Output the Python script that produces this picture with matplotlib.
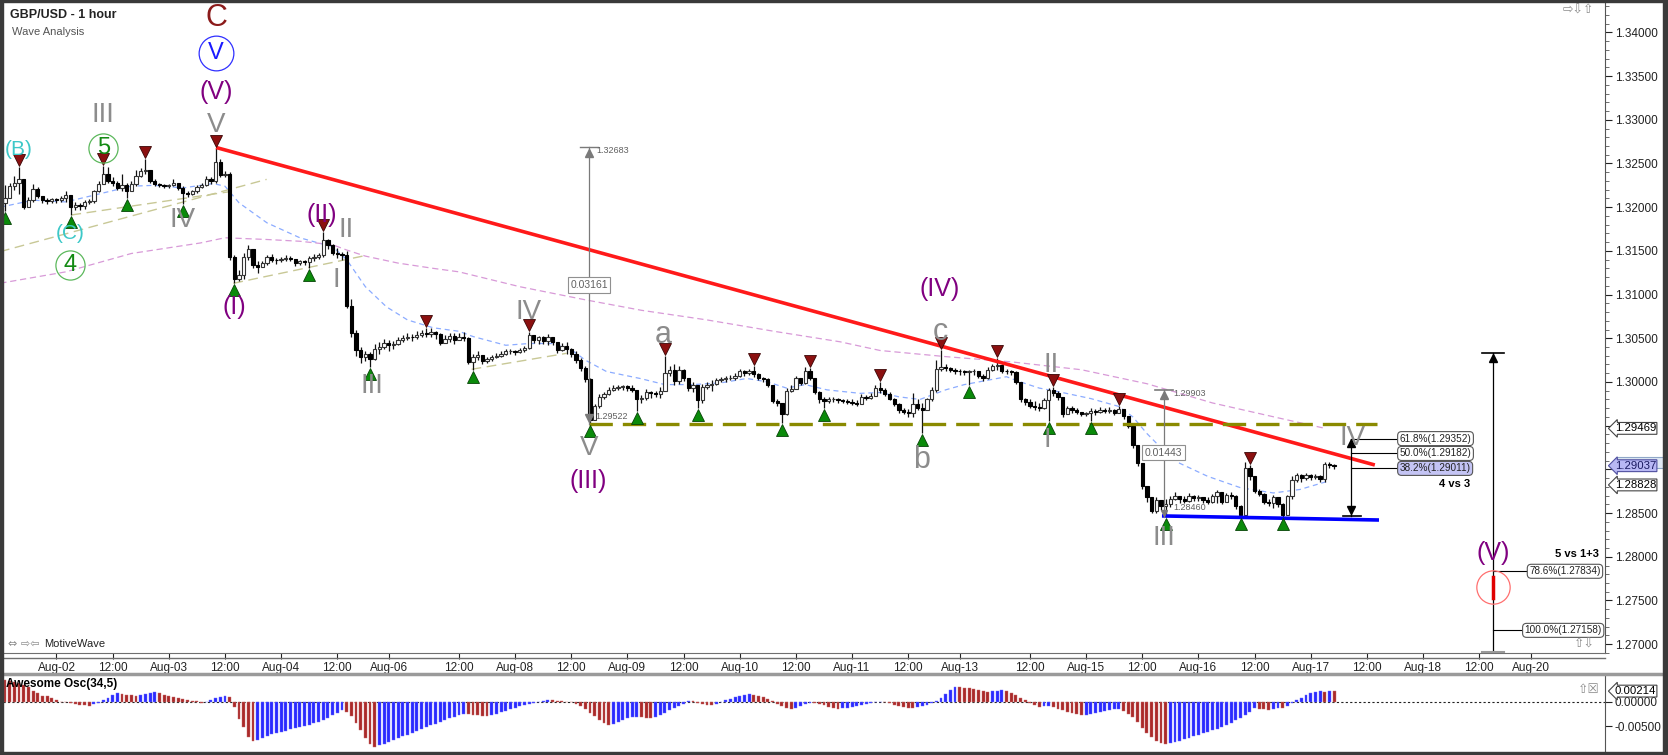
import numpy as np
import matplotlib
matplotlib.use('Agg')
import matplotlib.pyplot as plt
from matplotlib import transforms
from matplotlib.lines import Line2D
from matplotlib.patches import Rectangle, FancyBboxPatch

plt.rcParams['font.family'] = ['Liberation Sans', 'DejaVu Sans']

W, H = 1668, 755
BASE = 1.28   # prices below are in pips above 1.2800

# hourly GBP/USD candles, bar 0 = first hour on screen
first_open = 405
closes = [410, 424, 428, 432, 400, 408, 421, 413, 408, 407,
          409, 408, 410, 414, 400, 403, 401, 406, 407, 418,
          427, 438, 430, 428, 422, 425, 418, 426, 436, 441,
          442, 430, 427, 425, 424, 425, 428, 422, 416, 415,
          418, 423, 425, 432, 430, 452, 437, 438, 343, 318,
          322, 343, 352, 334, 332, 336, 343, 340, 339, 341,
          342, 341, 336, 338, 337, 342, 343, 345, 362, 357,
          348, 346, 345, 287, 256, 237, 228, 232, 226, 238,
          240, 245, 242, 244, 248, 250, 252, 251, 254, 256,
          255, 257, 255, 245, 249, 253, 248, 252, 250, 223,
          229, 231, 224, 226, 228, 230, 232, 235, 236, 234,
          237, 239, 254, 248, 251, 247, 252, 246, 237, 241,
          238, 232, 225, 216, 203, 157, 172, 183, 186, 191,
          193, 194, 195, 193, 191, 181, 182, 189, 187, 186,
          190, 210, 214, 201, 214, 204, 193, 197, 179, 194,
          196, 198, 202, 203, 204, 205, 207, 212, 210, 212,
          209, 205, 203, 197, 178, 176, 163, 190, 192, 204,
          199, 212, 205, 188, 180, 178, 180, 181, 179, 178,
          177, 176, 175, 183, 182, 184, 193, 191, 186, 181,
          175, 168, 166, 165, 175, 170, 168, 180, 191, 215,
          217, 216, 214, 213, 212, 211, 212, 213, 207, 204,
          214, 218, 219, 213, 212, 211, 200, 180, 177, 173,
          171, 170, 179, 191, 187, 183, 163, 170, 168, 166,
          163, 164, 167, 166, 168, 167, 168, 165, 169, 161,
          150, 128, 107, 81, 68, 52, 65, 58, 60, 66,
          70, 66, 64, 70, 67, 68, 65, 63, 69, 74,
          63, 71, 70, 58, 48, 101, 92, 75, 72, 63,
          62, 68, 60, 48, 69, 88, 93, 90, 93, 91,
          92, 89, 106, 105, 104]
highs = [425, 428, 436, 446, 432, 412, 426, 423, 413, 410,
         411, 411, 413, 418, 414, 406, 405, 408, 409, 420,
         430, 447, 446, 434, 430, 438, 428, 430, 442, 445,
         455, 443, 432, 428, 427, 427, 432, 428, 424, 418,
         420, 425, 428, 436, 434, 468, 455, 441, 440, 345,
         328, 348, 357, 346, 338, 338, 345, 346, 342, 343,
         345, 344, 339, 340, 339, 344, 346, 348, 372, 364,
         358, 353, 349, 350, 295, 260, 240, 236, 234, 244,
         246, 249, 248, 247, 251, 254, 256, 255, 258, 259,
         262, 262, 258, 256, 254, 256, 256, 256, 257, 252,
         232, 235, 230, 229, 231, 233, 235, 238, 238, 237,
         239, 241, 257, 254, 253, 253, 255, 251, 246, 245,
         246, 239, 235, 227, 218, 205, 175, 186, 189, 194,
         196, 197, 197, 196, 196, 190, 185, 192, 190, 190,
         194, 230, 218, 221, 218, 215, 204, 200, 197, 198,
         200, 202, 205, 206, 207, 208, 210, 215, 214, 215,
         218, 210, 206, 204, 192, 181, 176, 193, 196, 207,
         205, 217, 216, 205, 190, 183, 183, 183, 182, 181,
         180, 180, 179, 186, 185, 187, 196, 200, 193, 188,
         182, 176, 170, 169, 187, 180, 176, 182, 194, 225,
         237, 220, 217, 216, 215, 214, 214, 215, 211, 209,
         217, 221, 227, 220, 215, 214, 212, 200, 182, 180,
         178, 176, 182, 193, 194, 190, 182, 173, 172, 170,
         166, 166, 170, 169, 171, 170, 171, 169, 173, 167,
         160, 150, 128, 104, 80, 66, 68, 65, 66, 69,
         74, 70, 70, 73, 71, 71, 68, 68, 72, 76,
         74, 73, 74, 71, 59, 108, 105, 90, 78, 73,
         66, 71, 68, 62, 71, 92, 96, 95, 96, 95,
         95, 94, 109, 108, 106]
lows = [396, 410, 420, 415, 398, 400, 406, 410, 405, 404,
        405, 405, 406, 406, 391, 397, 397, 398, 404, 405,
        417, 426, 428, 424, 420, 418, 411, 418, 424, 435,
        438, 428, 424, 423, 422, 422, 424, 420, 404, 412,
        414, 416, 422, 424, 427, 428, 435, 434, 340, 313,
        316, 318, 340, 330, 325, 331, 334, 337, 335, 337,
        338, 338, 333, 334, 334, 330, 338, 341, 343, 352,
        345, 342, 340, 285, 252, 230, 222, 224, 217, 225,
        232, 238, 236, 238, 242, 246, 248, 247, 249, 251,
        251, 252, 249, 242, 245, 246, 243, 249, 247, 220,
        214, 225, 220, 222, 224, 227, 229, 231, 232, 231,
        233, 234, 238, 245, 244, 244, 242, 242, 233, 236,
        232, 229, 222, 212, 200, 152, 158, 170, 180, 185,
        190, 191, 191, 190, 189, 167, 176, 179, 182, 183,
        182, 190, 207, 196, 198, 201, 190, 188, 170, 176,
        192, 190, 196, 200, 200, 202, 202, 206, 207, 208,
        206, 202, 200, 194, 176, 172, 153, 162, 188, 193,
        196, 198, 202, 186, 176, 170, 176, 177, 176, 176,
        175, 174, 173, 175, 179, 181, 184, 187, 184, 179,
        172, 165, 163, 160, 160, 168, 142, 168, 178, 188,
        212, 212, 211, 209, 208, 208, 197, 208, 204, 201,
        203, 213, 214, 210, 209, 208, 198, 177, 174, 170,
        168, 167, 169, 155, 184, 179, 160, 164, 165, 163,
        161, 161, 155, 162, 164, 164, 164, 162, 164, 158,
        147, 125, 104, 78, 63, 50, 50, 54, 46, 57,
        65, 62, 61, 63, 64, 64, 62, 60, 61, 61,
        60, 66, 66, 55, 46, 47, 88, 73, 69, 60,
        58, 56, 57, 46, 50, 66, 86, 86, 88, 88,
        89, 86, 86, 101, 100]

# Awesome Oscillator (34,5), in pips
ao_pips = [43, 42, 40, 37, 34, 29, 21, 17, 12, 11, 7, 3, 0,
           -1, -3, -5, -6, -7, -8,
           -5, -2, 3, 8, 13, 17,
           16, 14, 13, 12,
           14, 16, 18, 19,
           17, 14, 11, 9, 7, 5, 3, 2, 1, -2,
           -1, 3, 7, 10, 12,
           9,
           -11, -35, -51, -71, -79,
           -77, -73, -69, -66, -64, -62, -59, -56, -54, -52, -50, -47, -44, -41, -37, -33, -28, -22, -17,
           -20, -30, -43, -58, -74, -86, -91,
           -88, -85, -81, -78, -74, -70, -67, -63, -60, -56, -52, -48, -45, -41, -38, -34, -31, -28, -25,
           -26, -27, -28, -29, -30,
           -27, -24, -21, -18, -15, -12, -9, -6, -4, -2, 0,
           2, 4,
           3, 2, 1, 0, -1,
           -4, -8, -14, -22, -30, -38, -44, -48,
           -46, -42, -38, -34, -32, -31,
           -32, -33, -34,
           -31, -27, -22, -17, -12, -8, -4,
           2,
           1, -2, -4, -6, -7,
           -5, -1, 3, 6, 9, 12, 14, 15,
           14, 12, 9, 5, 1, -4, -9, -13, -15,
           -13, -9, -5, -2,
           -3, -5, -7, -10, -12, -14,
           -13, -12, -11, -9, -7, -5, -3, -1, 0,
           -1, -3, -6, -9, -11, -12, -13,
           -11, -9, -6, -2, 2, 8, 15, 23, 30,
           29, 28, 27, 25, 24, 22, 20,
           21, 22, 23,
           21, 18, 13, 7, 3, -2, -6, -10,
           -9, -8,
           -11, -14, -17, -20, -23, -26, -28,
           -27, -25, -23, -21, -19, -17, -15, -14,
           -18, -24, -32, -42, -53, -64, -72, -79, -84, -86,
           -84, -82, -79, -76, -73, -70, -67, -64, -61, -58, -55, -51, -47, -43, -38, -33, -27, -20, -13,
           -14, -15, -16,
           -14, -12,
           -13,
           -8, -3, 3, 8, 13, 17, 20,
           21, 20, 22, 21.4]

# moving averages (bar, pips)
ma_fast_bars = [-1, 6, 13, 20, 27, 32, 38, 44.5, 47, 50, 56, 63, 67, 70, 73, 77, 81.5, 86, 91.5, 97,
                100, 107, 112, 117, 121, 124, 128.5, 135.7, 141, 147, 153, 158.5, 163, 167, 171, 175.6,
                182.7, 187, 191, 195.5, 198, 201, 205, 210, 214, 217, 221, 225, 232, 238, 241, 244,
                247.5, 251, 257, 264, 271, 276.7, 282.4]
ma_fast_pips = [400, 408, 406, 415, 424, 425, 422, 427, 424, 405, 382, 365, 359, 355, 340, 309, 286, 271, 262, 258,
                252, 242, 244, 244, 237, 225, 212, 204, 197, 197, 199, 204, 200, 193, 197, 191,
                187, 188, 183, 180, 185, 191, 197, 202, 206, 200, 193, 189, 181, 172, 160, 141,
                122, 107, 92, 79, 73, 77, 86]
ma_slow_bars = [-1, 13, 27, 41.7, 47, 56, 63, 70, 73, 77, 84, 91.5, 97, 110, 124, 136, 150, 164.3,
                178.4, 187, 201, 215, 230, 244, 258, 272, 282]
ma_slow_pips = [313, 326, 347, 359, 365, 363, 361, 357, 351, 344, 336, 330, 326, 309, 294, 282, 271, 258,
                246, 236, 229, 223, 214, 198, 176, 159, 147]

# swing markers (bar index)
pivot_lows = [0, 14, 26, 38, 49, 65, 78, 100, 125, 135, 148, 166, 175, 196, 206, 223, 232, 248, 264, 273]
pivot_highs = [3, 21, 30, 45, 68, 90, 112, 141, 160, 172, 187, 200, 212, 224, 238, 266]

tick_bars = [11, 23, 35, 47, 59, 71, 82, 97, 109, 121, 133, 145, 157, 169, 181, 193, 204, 219,
             231, 243, 255, 267, 279, 291, 303, 315, 326]
tick_labels = ['Aug-02', '12:00', 'Aug-03', '12:00', 'Aug-04', '12:00', 'Aug-06', '12:00', 'Aug-08',
               '12:00', 'Aug-09', '12:00', 'Aug-10', '12:00', 'Aug-11', '12:00', 'Aug-13', '12:00',
               'Aug-15', '12:00', 'Aug-16', '12:00', 'Aug-17', '12:00', 'Aug-18', '12:00', 'Aug-20']
price_ticks = [1.27, 1.275, 1.28, 1.285, 1.29, 1.295, 1.30, 1.305, 1.31, 1.315, 1.32, 1.325, 1.33, 1.335, 1.34]
# tick labels covered by the price tags in the original
covered_ticks = [1.29, 1.295]

GRAY = '#8c8c8c'
PURP = '#800080'
CYAN = '#3cc8c8'
GREEN = '#138a13'

fig = plt.figure(figsize=(W / 100, H / 100), dpi=100)
fig.patch.set_facecolor('white')


def px_axes(x0, y0, x1, y1):
    return fig.add_axes([x0 / W, 1 - y1 / H, (x1 - x0) / W, (y1 - y0) / H])


ax = px_axes(3, 3, 1605, 653)
ao = px_axes(3, 676, 1605, 752)

n = min(len(closes), len(highs), len(lows))
bars = np.arange(n)
c = BASE + np.array(closes[:n]) / 1e4
o = BASE + np.r_[first_open, closes[:n - 1]] / 1e4
hi = BASE + np.array(highs[:n]) / 1e4
lo = BASE + np.array(lows[:n]) / 1e4
top = np.maximum(hi, np.maximum(o, c))
bot = np.minimum(lo, np.minimum(o, c))

# moving averages & helper trendlines (behind candles)
ax.plot(ma_fast_bars, BASE + np.array(ma_fast_pips) / 1e4, color='#8cacff', lw=0.9, ls=(0, (4, 3)), zorder=2)
ax.plot(ma_slow_bars, BASE + np.array(ma_slow_pips) / 1e4, color='#d89ad8', lw=0.9, ls=(0, (5, 3)), zorder=2)
khaki = [(-1.07, 1.31491, 55.9, 1.32318), (14.2, 1.31911, 48.1, 1.32178),
         (48.8, 1.31129, 76.6, 1.31442), (99.7, 1.30145, 120.0, 1.30328)]
for x0, y0, x1, y1 in khaki:
    ax.plot([x0, x1], [y0, y1], color='#c8c896', lw=1.0, ls=(0, (7, 4)), zorder=2)

# candles
ax.vlines(bars, bot, top, color='#111111', lw=0.9, zorder=3)
up = c >= o
body = np.maximum(np.abs(c - o), 0.00004)
ax.bar(bars[up], body[up], bottom=np.minimum(o, c)[up], width=0.7, color='white',
       edgecolor='#333333', lw=0.8, zorder=4)
ax.bar(bars[~up], body[~up], bottom=np.minimum(o, c)[~up], width=0.7, color='black',
       edgecolor='black', lw=0.8, zorder=4)

# main trendlines
ax.plot([45.1, 292.7], [1.32683, 1.29050], color='#ff1a1a', lw=2.6, zorder=5, solid_capstyle='butt')
ax.plot([247.6, 293.2], [1.28467, 1.28421], color='#0000ff', lw=2.6, zorder=5)
ax.plot([124.8, 293.2], [1.29522, 1.29522], color='#8a8a00', lw=2.4, ls=(0, (7, 3)), zorder=5)

# swing markers
below = transforms.offset_copy(ax.transData, fig=fig, y=-7, units='dots')
above = transforms.offset_copy(ax.transData, fig=fig, y=7, units='dots')
ax.plot(pivot_lows, lo[pivot_lows], ls='none', marker='^', ms=8, mfc='#0a8a0a', mec='#064406',
        mew=0.6, transform=below, zorder=7)
ax.plot(pivot_highs, hi[pivot_highs], ls='none', marker='v', ms=8, mfc='#8b1010', mec='#3a0606',
        mew=0.6, transform=above, zorder=7)

# wave labels
labels = [('C', 45.1, 1.34165, '#8b1a1a', 22), ('V', 45.1, 1.33764, '#1a1aff', 17),
          ('(V)', 45.1, 1.33318, PURP, 18), ('V', 45.1, 1.32941, GRAY, 20),
          ('(B)', 3.0, 1.32662, CYAN, 15), ('III', 20.9, 1.33055, GRAY, 20),
          ('5', 21.0, 1.32674, GREEN, 17), ('(C)', 13.9, 1.31701, CYAN, 15),
          ('4', 13.9, 1.31339, GREEN, 17), ('IV', 38.0, 1.31854, GRAY, 20),
          ('(I)', 49.0, 1.30862, PURP, 18), ('(II)', 67.7, 1.31910, PURP, 18),
          ('II', 72.8, 1.31739, GRAY, 20), ('I', 70.9, 1.31167, GRAY, 20),
          ('III', 78.4, 1.29950, GRAY, 20), ('IV', 111.8, 1.30804, GRAY, 20),
          ('V', 124.9, 1.29250, GRAY, 20), ('(III)', 124.6, 1.28867, PURP, 18),
          ('a', 140.7, 1.30538, GRAY, 22), ('(IV)', 199.6, 1.31064, PURP, 18),
          ('c', 199.8, 1.30576, GRAY, 22), ('b', 195.9, 1.29108, GRAY, 22),
          ('II', 223.6, 1.30195, GRAY, 20), ('I', 222.7, 1.29336, GRAY, 20),
          ('III', 247.6, 1.28220, GRAY, 20), ('IV', 288.0, 1.29356, GRAY, 20),
          ('(V)', 317.9, 1.28044, PURP, 18)]
for txt, x, y, col, fs in labels:
    ax.text(x, y, txt, color=col, fontsize=fs, ha='center', va='center', zorder=8)
ax.plot(45.1, 1.33764, 'o', ms=25, mfc='none', mec='#3030ff', mew=0.9, zorder=8)
ax.plot([21.0, 13.9], [1.32674, 1.31339], 'o', ls='none', ms=21, mfc='none', mec='#5cb85c', mew=0.9, zorder=8)
ax.plot(317.9, 1.27655, 'o', ms=24, mfc='none', mec='#ff7070', mew=0.9, zorder=8)
ax.plot([317.9, 317.9], [1.27770, 1.27530], color='#e00000', lw=2.5, zorder=9)

# measurement: wave V drop
mcol = '#7a7a7a'
small = dict(fontsize=6.5, color='#606060', zorder=9)
boxed = dict(fontsize=7.5, color='#606060', ha='center', va='center', zorder=9,
             bbox=dict(boxstyle='square,pad=0.25', fc='white', ec='#909090', lw=0.8))
ax.plot([124.8, 124.8], [1.29522, 1.32683], color=mcol, lw=0.9, zorder=6)
ax.plot([122.8, 126.8], [1.32683, 1.32683], color=mcol, lw=1.0, zorder=6)
ax.plot(124.8, 1.3262, marker='^', ms=6, color=mcol, zorder=6)
ax.plot(124.8, 1.2959, marker='v', ms=6, color=mcol, zorder=6)
ax.text(126.4, 1.3265, '1.32683', ha='left', va='center', **small)
ax.text(124.8, 1.31110, '0.03161', **boxed)
ax.text(126.2, 1.29600, '1.29522', ha='left', va='center', **small)

# measurement: wave III drop
ax.plot([247.6, 247.6], [1.28460, 1.29903], color=mcol, lw=0.9, zorder=6)
ax.plot([245.7, 249.6], [1.29903, 1.29903], color=mcol, lw=1.2, zorder=6)
ax.plot(247.6, 1.2985, marker='^', ms=6, color=mcol, zorder=6)
ax.plot(247.6, 1.2850, marker='v', ms=5, color=mcol, zorder=6)
ax.text(249.6, 1.29870, '1.29903', ha='left', va='center', **small)
ax.text(247.6, 1.29190, '0.01443', **boxed)
ax.text(249.6, 1.28560, '1.28460', ha='left', va='center', **small)

# fib boxes
fib = dict(fontsize=7.2, color='#222222', ha='left', va='center', zorder=9)


def fbox(fc):
    return dict(boxstyle='round,pad=0.2,rounding_size=0.4', fc=fc, ec='#555555', lw=0.8)


# wave IV target (4 vs 3)
ax.plot([287.6, 287.6], [1.28470, 1.29352], color='black', lw=0.9, zorder=6)
ax.plot([285.9, 289.8], [1.28470, 1.28470], color='black', lw=1.2, zorder=6)
ax.plot(287.6, 1.2853, marker='v', ms=6, color='black', zorder=6)
ax.plot(287.6, 1.2930, marker='^', ms=6, color='black', zorder=6)
for lev, txt, fc in [(1.29352, '61.8%(1.29352)', 'white'), (1.29182, '50.0%(1.29182)', 'white'),
                     (1.29011, '38.2%(1.29011)', '#c4c4f4')]:
    ax.plot([287.6, 297.7], [lev, lev], color='black', lw=0.8, zorder=6)
    ax.text(298.0, lev, txt, bbox=fbox(fc), **fib)
ax.text(309.8, 1.28830, '4 vs 3', fontsize=8, fontweight='bold', ha='center', va='center', zorder=9)

# wave V target (5 vs 1+3)
ax.plot([317.9, 317.9], [1.2690, 1.30330], color='black', lw=0.9, zorder=6)
ax.plot([315.6, 320.2], [1.30330, 1.30330], color='black', lw=1.2, zorder=6)
ax.plot([315.6, 320.2], [1.2691, 1.2691], color='#999999', lw=1.5, zorder=6)
ax.plot(317.9, 1.3027, marker='^', ms=6, color='black', zorder=6)
for lev, txt, x1 in [(1.27834, '78.6%(1.27834)', 325.4), (1.27158, '100.0%(1.27158)', 324.4)]:
    ax.plot([317.9, x1], [lev, lev], color='black', lw=0.8, zorder=6)
    ax.text(x1 + 0.3, lev, txt, bbox=fbox('white'), **fib)
ax.text(340.6, 1.28030, '5 vs 1+3', fontsize=8, fontweight='bold', ha='right', va='center', zorder=9)

# main axes styling
ax.set_xlim(-0.427, 341.88)
ax.set_ylim(1.26899, 1.34336)
ax.set_facecolor('white')
for s in ['left', 'top']:
    ax.spines[s].set_visible(False)
ax.spines['right'].set_color('#555555')
ax.spines['bottom'].set_color('#707070')
ax.yaxis.tick_right()
ax.set_yticks(price_ticks)
ax.set_yticklabels(['' if any(abs(p - q) < 1e-9 for q in covered_ticks) else '%.5f' % p
                    for p in price_ticks])
ax.set_yticks(np.arange(1.269, 1.3435, 0.001), minor=True)
ax.tick_params(axis='y', which='major', direction='out', length=5, pad=2, labelsize=8.5,
               colors='#222222')
ax.tick_params(axis='y', which='minor', direction='out', length=3, colors='#555555')
ax.set_xticks(tick_bars)
ax.set_xticklabels(tick_labels)
ax.tick_params(axis='x', direction='out', length=4.5, pad=2, labelsize=8.5, colors='#222222')

# price tags on right axis (one tag partly hidden behind the last-price tag)
ytr = ax.get_yaxis_transform()
tag = dict(fontsize=8.2, ha='left', va='center', transform=ytr, zorder=10, clip_on=False)
ax.add_patch(FancyBboxPatch((1.0075, 1.29010), 0.0335, 0.00135, boxstyle='square,pad=0',
                            transform=ytr, fc='#dfe8f4', ec='#90a8c8', lw=0.8, clip_on=False, zorder=9))
ax.text(1.006, 1.29469, '1.29469', bbox=dict(boxstyle='larrow,pad=0.08', fc='white', ec='#444444', lw=0.8), **tag)
ax.text(1.006, 1.29042, '1.29037', color='#1a1a60',
        bbox=dict(boxstyle='larrow,pad=0.08', fc='#b8b8f4', ec='#5050a0', lw=0.8), **tag)
ax.text(1.006, 1.28822, '1.28828', bbox=dict(boxstyle='larrow,pad=0.08', fc='white', ec='#444444', lw=0.8), **tag)

# oscillator
ao_v = np.array(ao_pips[:n]) / 1e4
ao_up = np.r_[False, ao_v[1:] > ao_v[:-1]]
ao_b = np.arange(len(ao_v))
ao.bar(ao_b[ao_up], ao_v[ao_up], width=0.62, color='#2a2aff', edgecolor='#6a6aff', lw=0.3)
ao.bar(ao_b[~ao_up], ao_v[~ao_up], width=0.62, color='#aa2a2a', edgecolor='#c86a6a', lw=0.3)
ao.axhline(0, color='#222222', lw=0.8, ls=(0, (2, 2)), zorder=0)
ao.set_xlim(-0.427, 341.88)
ao.set_ylim(-0.0102, 0.0052)
for s in ['left', 'top', 'bottom']:
    ao.spines[s].set_visible(False)
ao.spines['right'].set_color('#555555')
ao.set_xticks([])
ao.yaxis.tick_right()
ao.set_yticks([0.0, -0.005])
ao.set_yticklabels(['0.00000', '-0.00500'])
ao.tick_params(axis='y', direction='out', length=5, pad=2, labelsize=8.5, colors='#222222')
ao.text(1.006, 0.00214, '0.00214', fontsize=8.2, ha='left', va='center', transform=ao.get_yaxis_transform(),
        clip_on=False, zorder=10, bbox=dict(boxstyle='larrow,pad=0.08', fc='white', ec='#444444', lw=0.8))
ao.text(0.002, 0.0036, 'Awesome Osc(34,5)', transform=ao.get_yaxis_transform(), fontsize=8.5,
        fontweight='bold', ha='left', va='center')

# frame, headers and small icons


def ftext(x, y, s, **kw):
    fig.text(x / W, 1 - y / H, s, **kw)


fig.add_artist(Line2D([3 / W, 1605 / W], [1 - 658 / H] * 2, color='#707070', lw=1.0))
fig.add_artist(Line2D([3 / W, 1663 / W], [1 - 674 / H] * 2, color='#9a9a9a', lw=2.5))
for x, y, w, h in [(0, 0, 3, H), (1663, 0, 5, H), (0, 752, W, 3), (0, 0, W, 2)]:
    fig.add_artist(Rectangle((x / W, 1 - (y + h) / H), w / W, h / H, transform=fig.transFigure,
                             color='#3a3a3a', zorder=20))

ftext(10, 15, 'GBP/USD - 1 hour', fontsize=9, fontweight='bold', color='#222222', va='center')
ftext(12, 32, 'Wave Analysis', fontsize=8, color='#555555', va='center')
ftext(8, 644, '\u21d4 \u21e8\u21e6', fontsize=8, color='#8a8a8a', va='center', family='DejaVu Sans')
ftext(44, 644, 'MotiveWave', fontsize=8, color='#222222', va='center')
ftext(1563, 10, '\u21e8\u21e9\u21e7', fontsize=9, color='#8a8a8a', va='center', family='DejaVu Sans')
ftext(1574, 644, '\u21e7\u21e9', fontsize=9, color='#8a8a8a', va='center', family='DejaVu Sans')
ftext(1578, 689, '\u21e7\u2612', fontsize=9, color='#8a8a8a', va='center', family='DejaVu Sans')

fig.savefig('out.png', dpi=100)
